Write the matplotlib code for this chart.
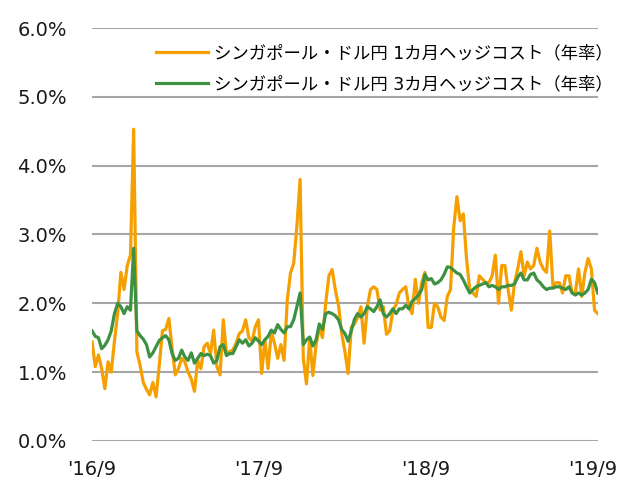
import matplotlib
matplotlib.use('Agg')
import matplotlib.pyplot as plt
import matplotlib.dates as mdates
import numpy as np
import pandas as pd
from matplotlib.ticker import FuncFormatter

plt.rcParams['font.family'] = ['DejaVu Sans', 'Noto Sans CJK JP']

# weekly readings, start 2016-09-01
start_date = '2016-09-01'
cost_1m = [
    1.44, 1.08, 1.25, 1.05, 0.76, 1.15, 1.00, 1.45, 1.85, 2.45,
    2.20, 2.55, 2.70, 4.53, 1.30, 1.10, 0.85, 0.75, 0.67, 0.85,
    0.64, 1.10, 1.60, 1.62, 1.78, 1.35, 0.96, 1.05, 1.20, 1.15,
    1.00, 0.90, 0.72, 1.17, 1.05, 1.37, 1.42, 1.27, 1.61, 1.08,
    0.96, 1.76, 1.27, 1.30, 1.32, 1.42, 1.56, 1.60, 1.76, 1.50,
    1.45, 1.66, 1.76, 0.98, 1.47, 1.05, 1.58, 1.42, 1.20, 1.40,
    1.17, 2.05, 2.44, 2.58, 3.12, 3.80, 1.20, 0.83, 1.50, 0.95,
    1.40, 1.65, 1.50, 2.00, 2.40, 2.49, 2.20, 1.97, 1.56, 1.30,
    0.98, 1.65, 1.70, 1.80, 1.95, 1.42, 1.95, 2.20, 2.24, 2.20,
    1.90, 1.95, 1.55, 1.60, 1.90, 1.98, 2.15, 2.20, 2.24, 1.95,
    1.85, 2.35, 2.00, 2.30, 2.45, 1.65, 1.65, 2.00, 1.95, 1.80,
    1.75, 2.10, 2.20, 3.10, 3.55, 3.20, 3.30, 2.65, 2.20, 2.15,
    2.10, 2.40, 2.35, 2.30, 2.30, 2.40, 2.70, 2.00, 2.55, 2.55,
    2.20, 1.90, 2.30, 2.50, 2.75, 2.40, 2.60, 2.50, 2.55, 2.80,
    2.60, 2.50, 2.45, 3.05, 2.25, 2.30, 2.30, 2.15, 2.40, 2.40,
    2.15, 2.15, 2.50, 2.10, 2.45, 2.65, 2.50, 1.90, 1.85,
]
cost_3m = [
    1.60, 1.52, 1.50, 1.34, 1.39, 1.47, 1.60, 1.85, 2.00, 1.95,
    1.85, 1.95, 1.90, 2.80, 1.60, 1.53, 1.48, 1.40, 1.22, 1.28,
    1.37, 1.46, 1.50, 1.53, 1.47, 1.27, 1.17, 1.20, 1.32, 1.22,
    1.17, 1.28, 1.13, 1.20, 1.27, 1.24, 1.26, 1.24, 1.13, 1.17,
    1.37, 1.40, 1.24, 1.27, 1.27, 1.37, 1.47, 1.42, 1.47, 1.38,
    1.42, 1.50, 1.45, 1.40, 1.47, 1.52, 1.61, 1.57, 1.69, 1.62,
    1.57, 1.66, 1.66, 1.76, 1.95, 2.15, 1.40, 1.47, 1.51, 1.38,
    1.47, 1.70, 1.62, 1.85, 1.87, 1.85, 1.82, 1.76, 1.62, 1.56,
    1.45, 1.60, 1.77, 1.85, 1.80, 1.85, 1.95, 1.92, 1.88, 1.95,
    2.05, 1.85, 1.80, 1.85, 1.92, 1.85, 1.92, 1.92, 1.97, 1.92,
    2.03, 2.07, 2.12, 2.20, 2.42, 2.34, 2.36, 2.28, 2.30, 2.34,
    2.42, 2.53, 2.52, 2.48, 2.44, 2.42, 2.34, 2.24, 2.15, 2.20,
    2.24, 2.26, 2.28, 2.30, 2.24, 2.26, 2.24, 2.20, 2.24, 2.24,
    2.26, 2.26, 2.28, 2.38, 2.44, 2.34, 2.34, 2.42, 2.44, 2.34,
    2.30, 2.24, 2.20, 2.22, 2.22, 2.24, 2.24, 2.22, 2.20, 2.24,
    2.15, 2.12, 2.15, 2.12, 2.15, 2.20, 2.35, 2.30, 2.15,
]
tick_dates = ['2016-09-01', '2017-09-01', '2018-09-01', '2019-09-01']
tick_labels = ["'16/9", "'17/9", "'18/9", "'19/9"]
labels = ['シンガポール・ドル円 1カ月ヘッジコスト（年率）',
          'シンガポール・ドル円 3カ月ヘッジコスト（年率）']

dates = pd.date_range(start_date, periods=len(cost_1m), freq='7D')

fig = plt.figure(figsize=(6.22, 4.84), dpi=100)
ax = fig.add_axes([0.148, 0.089, 0.813, 0.853])

ax.plot(dates, cost_1m, color='#F5A000', lw=2.3, label=labels[0])
ax.plot(dates, cost_3m, color='#3E9142', lw=2.3, label=labels[1])

ax.set_ylim(0, 6)
ax.set_yticks(np.arange(0, 7, 1))
ax.yaxis.set_major_formatter(FuncFormatter(lambda v, p: '%.1f%%' % v))
ax.set_xlim(dates[0], dates[-1])
ax.set_xticks(pd.to_datetime(tick_dates), tick_labels)

ax.grid(True, axis='y', color='#a6a6a6', lw=1.5)
ax.set_axisbelow(True)
for s in ax.spines.values():
    s.set_visible(False)
ax.tick_params(axis='both', length=0, labelsize=14, colors='#1a1a1a')
ax.tick_params(axis='y', pad=18)
ax.tick_params(axis='x', pad=14)

ax.legend(loc='upper right', bbox_to_anchor=(1.06, 0.998), frameon=False,
          fontsize=12.5, handlelength=3.0, handletextpad=0.3, labelspacing=0.75)

fig.savefig('out.png', dpi=100)
